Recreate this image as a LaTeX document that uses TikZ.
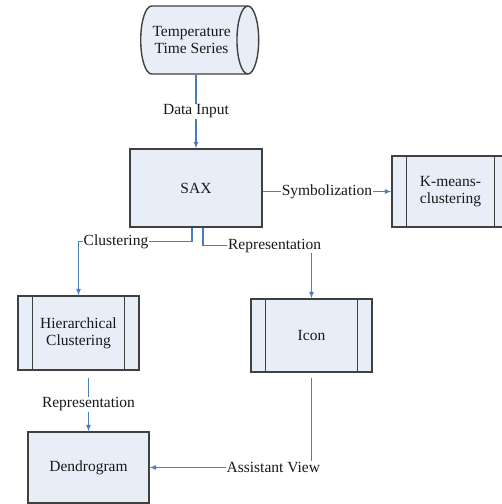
\documentclass[tikz,border=0pt]{standalone}
\usepackage{fontspec}
\setmainfont{Liberation Serif}
\newfontfamily\diagfont{Liberation Serif}
\usetikzlibrary{shapes.geometric,calc}
\definecolor{boxfill}{HTML}{E8EEF8}
\definecolor{boxline}{HTML}{404040}
\definecolor{connblue}{HTML}{4A7EBB}
\tikzset{
  box/.style={draw=boxline, fill=boxfill, line width=1.4pt, align=center, text=black!90,
    font=\diagfont\fontsize{15.5}{17}\selectfont},
  procbox/.style={box, minimum width=121pt, minimum height=72pt,
    path picture={\draw[boxline, line width=1.4pt]
      ([xshift=14.5pt]path picture bounding box.north west) -- ([xshift=14.5pt]path picture bounding box.south west)
      ([xshift=-14.5pt]path picture bounding box.north east) -- ([xshift=-14.5pt]path picture bounding box.south east);}},
  datastore/.style={box, cylinder, aspect=0.64, minimum height=118pt, minimum width=68pt},
  conn/.style={connblue, line width=1.2pt, ->, >=latex},
  lbl/.style={fill=white, inner sep=1pt, text=black!90, font=\diagfont\fontsize{15.5}{17}\selectfont}
}
\begin{document}
\begin{tikzpicture}[x=1pt, y=-1pt]
  \useasboundingbox (0,0) rectangle (502,504);
  % boxes
  \node[datastore, anchor=west] (tts) at (140,40) {Temperature\\Time Series};
  \node[box, minimum width=132pt, minimum height=78pt] (sax) at (196,188) {SAX};
  \node[procbox, minimum width=117pt, minimum height=71pt] (kmeans) at (450.5,191.5) {K-means-\\clustering};
  \node[procbox, minimum height=74pt] (hier) at (78.5,333) {Hierarchical\\Clustering};
  \node[procbox, minimum height=73pt] (icon) at (311.5,335.5) {Icon};
  \node[box, minimum width=121pt, minimum height=71pt] (dendro) at (88.5,467.5) {Dendrogram};
  % connectors
  \draw[conn] (sax.north |- tts.south) -- node[lbl]{Data Input} (sax.north);
  \draw[conn] (sax.east |- kmeans.west) -- node[lbl]{Symbolization} (kmeans.west);
  \draw[conn] ([xshift=-4pt]sax.south) -- ++(0,14) -| node[lbl, pos=0.335]{Clustering} (hier.north);
  \draw[conn] ([xshift=7pt]sax.south) -- ++(0,18) -| node[lbl, pos=0.33]{Representation} (icon.north);
  \draw[conn] ([yshift=-7pt]dendro.north |- hier.south) -- node[lbl]{Representation} (dendro.north);
  \draw[conn] ([yshift=-5pt]icon.south) |- node[lbl, pos=0.618]{Assistant View} (dendro.east);
\end{tikzpicture}
\end{document}
